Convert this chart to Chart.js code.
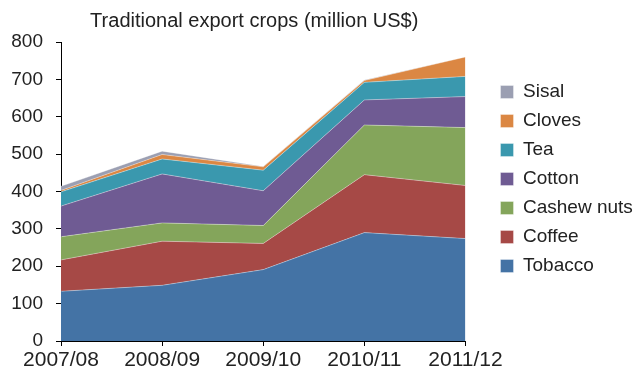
<!DOCTYPE html>
<html>
<head>
<meta charset="utf-8">
<script src="https://cdn.jsdelivr.net/npm/chart.js@4"></script>
<style>
  html, body { margin: 0; padding: 0; background: #fff; }
  #wrap { width: 644px; height: 372px; }
</style>
</head>
<body>
<div id="wrap"><canvas id="cropsChart"></canvas></div>
<script>
// Export values per season, million US$
const seasons = ['2007/08', '2008/09', '2009/10', '2010/11', '2011/12'];
const tobacco = [133, 149, 191, 290, 274];
const coffee  = [84, 118, 70, 155, 142];
const cashew  = [62, 49, 48, 133, 155];
const cotton  = [82, 131, 93, 67, 83];
const tea     = [38, 40, 55, 47, 54];
const cloves  = [4, 12, 9, 5, 52];
const sisal   = [11, 9, 1, 1, 0];
const yTicks  = [0, 100, 200, 300, 400, 500, 600, 700, 800];

const FONT = 'Liberation Sans, Arial, sans-serif';
const INK = '#222';

function layer(label, data, color, first) {
    return {
        label: label,
        data: data,
        backgroundColor: color,
        borderColor: 'rgba(255,255,255,0.35)',
        borderWidth: 1,
        pointRadius: 0,
        tension: 0,
        fill: first ? 'origin' : '-1'
    };
}

// move the legend block away from the plot, pull the title slightly left
const nudge = {
    id: 'nudge',
    afterLayout(chart) {
        const lg = chart.legend;
        lg.left += 25; lg.right += 25;
        lg.top -= 7; lg.bottom -= 7;
        const tt = chart.titleBlock;
        tt.left -= 9; tt.right -= 9;
    }
};

document.addEventListener('DOMContentLoaded', () => {
    const ctx = document.getElementById('cropsChart').getContext('2d');

    new Chart(ctx, {
        type: 'line',
        data: {
            labels: seasons,
            datasets: [
                layer('Tobacco', tobacco, '#4473a5', true),
                layer('Coffee', coffee, '#a64946'),
                layer('Cashew nuts', cashew, '#84a55b'),
                layer('Cotton', cotton, '#6f5b93'),
                layer('Tea', tea, '#3a98ae'),
                layer('Cloves', cloves, '#db8743'),
                layer('Sisal', sisal, '#9b9fb2')
            ]
        },
        options: {
            responsive: true,
            maintainAspectRatio: false,
            animation: false,
            layout: { padding: { left: 11, right: 27, top: 0, bottom: 0 } },
            plugins: {
                title: {
                    display: true,
                    text: 'Traditional export crops (million US$)',
                    fullSize: false,
                    color: INK,
                    font: { family: FONT, size: 20, weight: 'normal' },
                    padding: { top: 9, bottom: 9 }
                },
                legend: {
                    position: 'right',
                    reverse: true,
                    labels: {
                        color: INK,
                        font: { family: FONT, size: 19 },
                        boxWidth: 13,
                        boxHeight: 13,
                        padding: 10
                    }
                },
                tooltip: { enabled: false }
            },
            scales: {
                x: {
                    offset: false,
                    afterFit: (scale) => { scale.height = 31; },
                    grid: { drawOnChartArea: false, tickLength: 5, color: '#000' },
                    border: { color: '#000', width: 1 },
                    ticks: {
                        color: INK,
                        font: { family: FONT, size: 21 },
                        padding: 2,
                        maxRotation: 0,
                        autoSkip: false
                    }
                },
                y: {
                    stacked: true,
                    min: 0,
                    max: 800,
                    afterBuildTicks: (scale) => { scale.ticks = yTicks.map(v => ({ value: v })); },
                    afterFit: (scale) => { scale.width = 50; },
                    grid: { drawOnChartArea: false, tickLength: 5, color: '#000' },
                    border: { color: '#000', width: 1 },
                    ticks: {
                        color: INK,
                        font: { family: FONT, size: 19 },
                        padding: 13
                    }
                }
            }
        },
        plugins: [nudge]
    });
});
</script>
</body>
</html>
